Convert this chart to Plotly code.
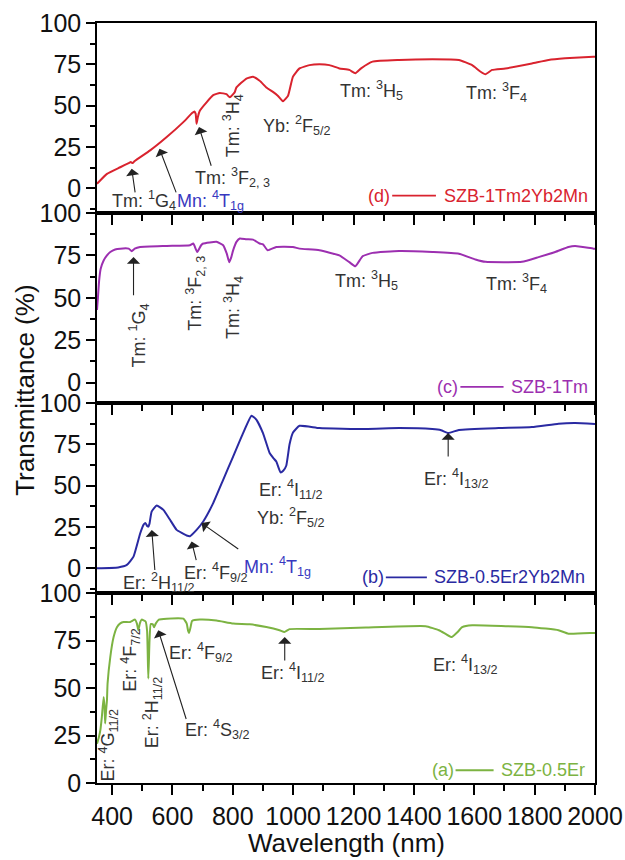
import plotly.graph_objects as go

# ---------------- data ----------------
d_nm = [350, 383, 427, 455, 462, 468, 475, 526, 581, 636, 665, 673, 677, 680, 684, 691, 713, 735, 757,
        779, 790, 806, 812, 845, 867, 889, 911, 933, 949, 966, 983, 999, 1021, 1054, 1087, 1120, 1153,
        1186, 1206, 1225, 1263, 1351, 1461, 1549, 1593, 1621, 1637, 1659, 1703, 1791, 1846, 1901, 1995, 2000]
d_T = [2.7, 8.7, 12.7, 15.2, 15.8, 15.2, 16.5, 22.9, 31, 40, 45.5, 46.5, 45, 39, 43, 47, 52, 56.3, 57.7,
       56.9, 55, 58, 61, 66.4, 67.4, 65, 61, 58.3, 56, 52.6, 56, 67.4, 72.5, 74.5, 75, 74.5, 72.5,
       71.6, 69.6, 72.5, 76.6, 77.6, 78, 77.6, 74.5, 70.5, 69, 71.6, 72.5, 75.5, 77.6, 78.6, 79.6, 79.6]

c_nm = [350, 353, 357, 362, 372, 383, 394, 410, 427, 455, 465, 475, 493, 581, 658, 669, 682, 695, 702,
        746, 768, 780, 788, 795, 801, 812, 823, 845, 867, 889, 900, 916, 944, 999, 1021, 1087, 1153,
        1186, 1206, 1230, 1263, 1351, 1461, 1549, 1604, 1637, 1758, 1813, 1868, 1912, 1934, 1995, 2000]
c_T = [42.8, 50, 60, 67, 72, 75, 77, 78.5, 79, 79, 77.5, 79, 80, 80.6, 81, 82, 77, 81, 82,
       83, 81, 76, 71, 74, 78, 83, 85, 84.5, 84.3, 82, 81.5, 78, 80, 80, 79, 78, 75,
       71, 68.6, 74.5, 76.5, 77.6, 77, 76, 72.6, 71.2, 71.2, 74, 77, 80, 80.6, 79, 79]

b_nm = [350, 420, 449, 471, 493, 505, 511, 516, 520, 524, 531, 548, 570, 592, 614, 647, 658, 680, 702,
        735, 768, 801, 834, 862, 878, 900, 922, 935, 944, 958, 967, 977, 988, 999, 1021, 1087, 1241,
        1351, 1461, 1490, 1514, 1549, 1681, 1791, 1879, 1934, 2000]
b_T = [0, 0.5, 2, 7, 21, 26.5, 27.3, 25.5, 25.2, 27, 34.3, 38, 35.3, 29.3, 23.2, 19.8, 19.4, 23.2, 28.3,
       39.4, 53.5, 67.6, 81.8, 92.3, 90, 81.8, 69.7, 66.5, 64.6, 58, 59, 62, 75, 82, 86.2, 84.8, 84.2,
       84.8, 84.2, 83.5, 81.8, 83.7, 84.8, 85.4, 87.5, 87.9, 87.3]

a_nm = [350, 356, 361, 366, 372, 375, 377, 380, 383, 385, 394, 405, 416, 427, 438, 460, 476, 482, 487,
        492, 498, 511, 516, 520, 524, 528, 535, 539, 545, 555, 581, 636, 647, 652, 655, 660, 665, 691,
        746, 801, 856, 911, 955, 971, 988, 1087, 1241, 1439, 1483, 1505, 1525, 1545, 1560, 1593, 1791,
        1879, 1912, 1995, 2000]
a_T = [20.7, 24, 27.7, 34.7, 45.3, 40, 31.3, 38, 43.6, 52.3, 66.3, 76.8, 82, 84, 84.7, 84.7, 86, 84, 80.4,
       84, 86, 85, 80, 55, 75, 83.7, 83.5, 82, 84, 86, 86.5, 86.5, 84, 80, 79, 82, 85.3, 86,
       85.5, 83.9, 83.5, 82.1, 80.4, 79.5, 81, 81, 81.8, 82.5, 80.4, 78.5, 76.8, 79.5, 82, 83, 82,
       80.4, 78.6, 79, 79]

x_ticks = [400, 600, 800, 1000, 1200, 1400, 1600, 1800, 2000]
y_ticks = [0, 25, 50, 75, 100]

series_names = ["SZB-0.5Er", "SZB-0.5Er2Yb2Mn", "SZB-1Tm", "SZB-1Tm2Yb2Mn"]
panel_tags = ["(a)", "(b)", "(c)", "(d)"]
colors = ["#7cb342", "#2a2aa2", "#9c2fb0", "#d9232e"]

FONT = "Liberation Sans, Arial, sans-serif"
TXT = "#333333"
MN = "#3838c0"

fig = go.Figure()
panels = [(a_nm, a_T), (b_nm, b_T), (c_nm, c_T), (d_nm, d_T)]
axis_ids = ["", "2", "3", "4"]
for i, (xs, ys) in enumerate(panels):
    fig.add_trace(go.Scatter(x=xs, y=ys, mode="lines", name=series_names[i],
                             line=dict(color=colors[i], width=2, shape="spline", smoothing=0.4),
                             xaxis="x" + axis_ids[i], yaxis="y" + axis_ids[i], showlegend=False,
                             hoverinfo="skip"))

domains = [[0, 0.25], [0.25, 0.5], [0.5, 0.75], [0.75, 1.0]]
yranges = [[0, 100], [-15, 100], [-12, 100], [-15, 100]]
layout = {}
for i in range(4):
    sid = axis_ids[i]
    xa = dict(range=[350, 2000], tickvals=x_ticks, showline=True, linecolor="black", linewidth=1.5,
              mirror=True, ticks="outside", ticklen=10, tickwidth=1.5, tickcolor="black",
              minor=dict(dtick=100, tick0=400, ticks="outside", ticklen=6, tickwidth=1.5, tickcolor="black"),
              showgrid=False, zeroline=False, anchor="y" + sid, automargin=False,
              showticklabels=(i == 0), tickfont=dict(family=FONT, size=25, color="#111"))
    if i > 0:
        xa["matches"] = "x"
    ya = dict(domain=domains[i], range=yranges[i], tickvals=y_ticks, showline=True, linecolor="black",
              linewidth=1.5, mirror=True, ticks="outside", ticklen=9, tickwidth=1.5, tickcolor="black",
              minor=dict(dtick=12.5, tick0=0, ticks="outside", ticklen=5, tickwidth=1.5, tickcolor="black"),
              showgrid=False, zeroline=False, anchor="x" + sid, automargin=False,
              tickfont=dict(family=FONT, size=25, color="#111"))
    layout["xaxis" + sid] = xa
    layout["yaxis" + sid] = ya
fig.update_layout(**layout)

ann = []

def label(panel, x, y, text, angle=0, color=TXT, size=18, xanchor="center"):
    sid = axis_ids[panel]
    ann.append(dict(x=x, y=y, xref="x" + sid, yref="y" + sid, text=text, showarrow=False,
                    textangle=angle, xanchor=xanchor, yanchor="middle",
                    font=dict(family=FONT, size=size, color=color)))

def arrow(panel, hx, hy, tx, ty):
    sid = axis_ids[panel]
    ann.append(dict(x=hx, y=hy, xref="x" + sid, yref="y" + sid, ax=tx, ay=ty,
                    axref="x" + sid, ayref="y" + sid, text="", showarrow=True,
                    arrowhead=1, arrowsize=2, arrowwidth=1.1, arrowcolor="#222", standoff=0,
                    startstandoff=0))

# panel d
label(3, 505, -7.5, "Tm: <sup>1</sup>G<sub>4</sub>")
arrow(3, 465, 11.8, 477, -3.4)
label(3, 726, -7.5, "Mn: <sup>4</sup>T<sub>1g</sub>", color=MN)
arrow(3, 557, 23.9, 614, -3.4)
label(3, 800, 6.4, "Tm: <sup>3</sup>F<sub>2, 3</sub>")
arrow(3, 688, 37, 730, 12.7)
label(3, 800, 38, "Tm: <sup>3</sup>H<sub>4</sub>", angle=-90)
label(3, 1011, 38, "Yb: <sup>2</sup>F<sub>5/2</sub>")
label(3, 1259, 59.3, "Tm: <sup>3</sup>H<sub>5</sub>")
label(3, 1672, 58, "Tm: <sup>3</sup>F<sub>4</sub>")

# panel c
label(2, 487, 28, "Tm: <sup>1</sup>G<sub>4</sub>", angle=-90)
arrow(2, 471, 74, 471, 50.6)
label(2, 674, 52.8, "Tm: <sup>3</sup>F<sub>2, 3</sub>", angle=-90)
label(2, 800, 44.5, "Tm: <sup>3</sup>H<sub>4</sub>", angle=-90)
label(2, 1242, 60.4, "Tm: <sup>3</sup>H<sub>5</sub>")
label(2, 1740, 58.6, "Tm: <sup>3</sup>F<sub>4</sub>")

# panel b
label(1, 556, -8.8, "Er: <sup>2</sup>H<sub>11/2</sub>")
arrow(1, 531.5, 23.2, 542, -2)
label(1, 744, -2.8, "Er: <sup>4</sup>F<sub>9/2</sub>")
arrow(1, 663.5, 16.1, 680, 4)
label(1, 948, 0.8, "Mn: <sup>4</sup>T<sub>1g</sub>", color=MN)
arrow(1, 696.5, 27.3, 823, 11)
label(1, 992, 47.5, "Er: <sup>4</sup>I<sub>11/2</sub>")
label(1, 992, 30.5, "Yb: <sup>2</sup>F<sub>5/2</sub>")
label(1, 1542, 54.1, "Er: <sup>4</sup>I<sub>13/2</sub>")
arrow(1, 1513.5, 81.8, 1513.5, 66.7)

# panel a
label(0, 387, 19.8, "Er: <sup>4</sup>G<sub>11/2</sub>", angle=-90)
label(0, 460, 65, "Er: <sup>4</sup>F<sub>7/2</sub>", angle=-90)
label(0, 532, 37.2, "Er: <sup>2</sup>H<sub>11/2</sub>", angle=-90)
label(0, 750, 28.3, "Er: <sup>4</sup>S<sub>3/2</sub>")
arrow(0, 553, 80.4, 647, 32.9)
label(0, 694, 68.8, "Er: <sup>4</sup>F<sub>9/2</sub>")
label(0, 1001, 58.3, "Er: <sup>4</sup>I<sub>11/2</sub>")
arrow(0, 972, 76.8, 972, 63.7)
label(0, 1572, 62.5, "Er: <sup>4</sup>I<sub>13/2</sub>")

# in-panel legends: tag, key line, name
leg = [  # (tag right x, line x0, line x1, text x, y)
    (1538, 1538, 1664, 1681, 6.7),
    (1307, 1307, 1443, 1460, -5.6),
    (1554, 1554, 1697, 1714, -2.5),
    (1328, 1328, 1473, 1493, -4.5),
]
shapes = []
for i, (tx, l0, l1, nx, yy) in enumerate(leg):
    sid = axis_ids[i]
    label(i, tx, yy, panel_tags[i], color=colors[i], size=18, xanchor="right")
    label(i, nx, yy, series_names[i], color=colors[i], size=18, xanchor="left")
    shapes.append(dict(type="line", xref="x" + sid, yref="y" + sid, x0=l0, x1=l1, y0=yy, y1=yy,
                       line=dict(color=colors[i], width=1.8)))

# axis titles
ann.append(dict(x=-0.145, y=0.517, xref="paper", yref="paper", text="Transmittance (%)", textangle=-90,
                showarrow=False, xanchor="center", yanchor="middle",
                font=dict(family=FONT, size=26, color="#111")))
ann.append(dict(x=0.502, y=-0.079, xref="paper", yref="paper", text="Wavelength (nm)",
                showarrow=False, xanchor="center", yanchor="middle",
                font=dict(family=FONT, size=26, color="#111")))

fig.update_layout(annotations=ann, shapes=shapes, width=625, height=860,
                  margin=dict(l=97, r=30, t=23, b=77),
                  paper_bgcolor="white", plot_bgcolor="white", showlegend=False)
fig.write_html("out.html", config={"displayModeBar": False},
               post_script="document.body.style.margin='0';document.body.style.overflow='hidden';")
